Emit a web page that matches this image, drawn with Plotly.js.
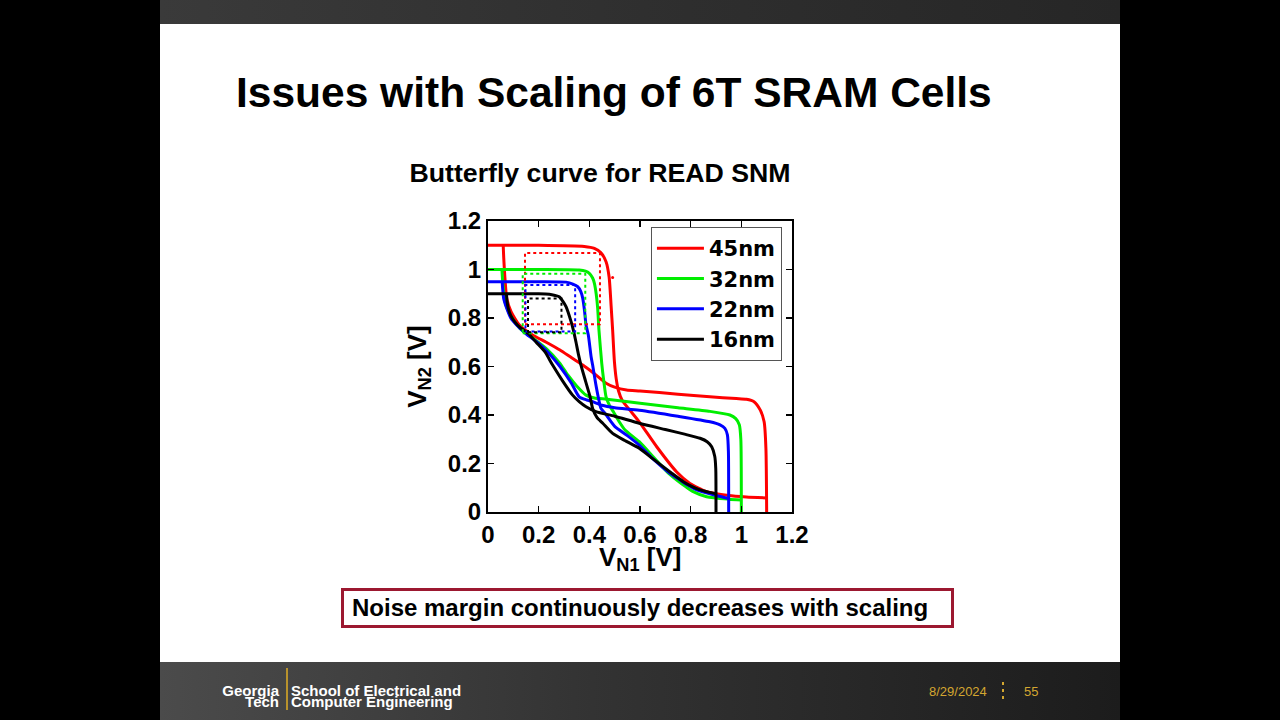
<!DOCTYPE html>
<html>
<head>
<meta charset="utf-8">
<script src="https://cdn.plot.ly/plotly-3.0.1.min.js"></script>
<style>
  body { margin:0; width:1280px; height:720px; background:#000; overflow:hidden;
         font-family:"Liberation Sans", Arial, sans-serif; }
  #topbar { position:absolute; left:160px; top:0; width:960px; height:24px;
            background:linear-gradient(90deg,#3a3a3a,#2e2e2e 55%,#262626); }
  #slide  { position:absolute; left:160px; top:24px; width:960px; height:638px; background:#fff; }
  #footer { position:absolute; left:160px; top:662px; width:960px; height:58px;
            background:linear-gradient(90deg,#4b4b4b,#333 45%,#1c1c1c); }
  #headline { position:absolute; left:236px; top:72px; font-size:42.5px; line-height:42px;
              font-weight:bold; color:#000; white-space:nowrap; }
  #note { position:absolute; left:341px; top:588px; width:613px; height:40px; box-sizing:border-box;
          border:3px solid #9c1830; background:#fff; padding-left:8px;
          font-size:24px; line-height:34px; font-weight:bold; color:#000; white-space:nowrap; }
  .ft { position:absolute; font-weight:bold; color:#fff; font-size:15px; line-height:11px; white-space:nowrap; }
  .gold { position:absolute; color:#d3a630; font-size:13px; line-height:13px; white-space:nowrap; }
  .dot { position:absolute; width:2px; height:3px; background:#d3a630; }
  #chart { position:absolute; left:0; top:0; width:1280px; height:720px; }
</style>
</head>
<body>
<div id="topbar"></div>
<div id="slide"></div>
<div id="footer"></div>
<div id="headline">Issues with Scaling of 6T SRAM Cells</div>
<div id="note">Noise margin continuously decreases with scaling</div>

<div class="ft" style="left:216px; top:685px; width:63px; text-align:right;">Georgia<br>Tech</div>
<div style="position:absolute; left:286px; top:668px; width:2px; height:42px; background:#b8922c;"></div>
<div class="ft" style="left:291px; top:685px;">School of Electrical and<br>Computer Engineering</div>
<div class="gold" style="left:929px; top:685px;">8/29/2024</div>
<div class="dot" style="left:1002px; top:682px;"></div>
<div class="dot" style="left:1002px; top:689px;"></div>
<div class="dot" style="left:1002px; top:696px;"></div>
<div class="gold" style="left:1024px; top:685px;">55</div>

<div id="chart"></div>

<script>
// Technology nodes shown in the legend
const nodes = ['45nm', '32nm', '22nm', '16nm'];

// 45nm: inverter transfer curve V_N2(V_N1) and its mirrored partner
const n45_ax = [0, 0.2, 0.38, 0.42, 0.445, 0.466, 0.478, 0.486, 0.492, 0.499, 0.506, 0.515, 0.53, 0.56, 0.597, 0.666, 0.745, 0.797, 0.863, 0.95, 1.02, 1.1];
const n45_ay = [1.1, 1.1, 1.095, 1.087, 1.07, 1.032, 0.97, 0.85, 0.75, 0.62, 0.55, 0.5, 0.46, 0.42, 0.372, 0.269, 0.165, 0.118, 0.084, 0.068, 0.062, 0.058];
const n45_bx = [0.06, 0.062, 0.066, 0.074, 0.091, 0.124, 0.176, 0.23, 0.284, 0.33, 0.374, 0.42, 0.466, 0.5, 0.547, 0.6, 0.75, 0.876, 0.98, 1.02, 1.05, 1.075, 1.09, 1.097, 1.1];
const n45_by = [1.1, 1.05, 0.977, 0.881, 0.826, 0.771, 0.73, 0.7, 0.668, 0.636, 0.606, 0.57, 0.531, 0.515, 0.503, 0.499, 0.486, 0.475, 0.468, 0.465, 0.455, 0.42, 0.372, 0.263, 0];

// 32nm
const n32_ax = [0, 0.2, 0.36, 0.385, 0.4, 0.413, 0.42, 0.427, 0.433, 0.438, 0.449, 0.457, 0.466, 0.479, 0.495, 0.518, 0.541, 0.597, 0.65, 0.712, 0.745, 0.78, 0.81, 0.863, 0.95, 1.0];
const n32_ay = [1.0, 1.0, 0.998, 0.993, 0.984, 0.965, 0.943, 0.9, 0.84, 0.75, 0.613, 0.54, 0.475, 0.441, 0.413, 0.372, 0.338, 0.29, 0.23, 0.16, 0.132, 0.105, 0.084, 0.063, 0.053, 0.05];
const n32_bx = [0.055, 0.058, 0.063, 0.067, 0.087, 0.126, 0.179, 0.229, 0.284, 0.315, 0.35, 0.387, 0.42, 0.469, 0.6, 0.75, 0.876, 0.955, 0.978, 0.992, 0.998, 1.0];
const n32_by = [1.0, 0.95, 0.9, 0.867, 0.812, 0.757, 0.716, 0.675, 0.613, 0.565, 0.52, 0.482, 0.47, 0.465, 0.448, 0.43, 0.415, 0.4, 0.385, 0.36, 0.3, 0];

// 22nm
const n22_ax = [0, 0.2, 0.308, 0.335, 0.354, 0.366, 0.374, 0.381, 0.387, 0.396, 0.407, 0.413, 0.425, 0.435, 0.446, 0.462, 0.486, 0.501, 0.55, 0.597, 0.65, 0.718, 0.758, 0.79, 0.824, 0.9, 0.95];
const n22_ay = [0.95, 0.95, 0.948, 0.94, 0.929, 0.91, 0.881, 0.83, 0.771, 0.73, 0.64, 0.606, 0.53, 0.475, 0.427, 0.407, 0.372, 0.352, 0.315, 0.276, 0.22, 0.16, 0.132, 0.11, 0.091, 0.068, 0.056];
const n22_bx = [0.056, 0.058, 0.062, 0.074, 0.09, 0.113, 0.15, 0.192, 0.24, 0.284, 0.33, 0.36, 0.39, 0.413, 0.45, 0.5, 0.597, 0.75, 0.876, 0.916, 0.935, 0.945, 0.949, 0.95];
const n22_by = [0.95, 0.92, 0.88, 0.84, 0.8, 0.771, 0.735, 0.702, 0.655, 0.6, 0.53, 0.475, 0.462, 0.455, 0.44, 0.43, 0.42, 0.395, 0.372, 0.359, 0.345, 0.318, 0.25, 0];

// 16nm
const n16_ax = [0, 0.2, 0.242, 0.265, 0.281, 0.295, 0.308, 0.328, 0.337, 0.347, 0.357, 0.367, 0.385, 0.403, 0.413, 0.43, 0.453, 0.492, 0.54, 0.597, 0.65, 0.725, 0.771, 0.8, 0.837, 0.87, 0.9];
const n16_ay = [0.9, 0.9, 0.898, 0.893, 0.888, 0.87, 0.847, 0.785, 0.75, 0.702, 0.65, 0.606, 0.54, 0.475, 0.427, 0.39, 0.366, 0.324, 0.295, 0.263, 0.22, 0.16, 0.125, 0.108, 0.091, 0.082, 0.075];
const n16_bx = [0.073, 0.075, 0.08, 0.09, 0.105, 0.125, 0.16, 0.19, 0.225, 0.255, 0.295, 0.334, 0.36, 0.387, 0.426, 0.5, 0.597, 0.7, 0.78, 0.837, 0.865, 0.883, 0.895, 0.899, 0.9];
const n16_by = [0.9, 0.87, 0.84, 0.81, 0.785, 0.762, 0.735, 0.7, 0.66, 0.606, 0.54, 0.482, 0.455, 0.434, 0.414, 0.395, 0.366, 0.34, 0.32, 0.304, 0.29, 0.269, 0.23, 0.18, 0];

// Largest embedded squares (read SNM) per node, in volts
const snmLeft   = [0.146, 0.137, 0.148, 0.158];
const snmRight  = [0.442, 0.384, 0.344, 0.290];
const snmBottom = [0.774, 0.737, 0.744, 0.741];
const snmTop    = [1.068, 0.982, 0.936, 0.880];

// Isolated sample point near the 45nm transition
const strayX = [0.492];
const strayY = [0.967];

const colors = ['#ff0000', '#00ee00', '#0000ff', '#000000'];
const curvesA = [[n45_ax, n45_ay], [n32_ax, n32_ay], [n22_ax, n22_ay], [n16_ax, n16_ay]];
const curvesB = [[n45_bx, n45_by], [n32_bx, n32_by], [n22_bx, n22_by], [n16_bx, n16_by]];

const font = 'Liberation Sans, Arial, sans-serif';
const legendFont = 'DejaVu Sans, Liberation Sans, sans-serif';
const traces = [];

nodes.forEach((name, i) => {
  traces.push({
    x: curvesA[i][0], y: curvesA[i][1], name: name, type: 'scatter', mode: 'lines',
    line: { color: colors[i], width: 3, shape: 'spline', smoothing: 0.6 },
    legendgroup: name, showlegend: true
  });
  traces.push({
    x: curvesB[i][0], y: curvesB[i][1], name: name, type: 'scatter', mode: 'lines',
    line: { color: colors[i], width: 3, shape: 'spline', smoothing: 0.6 },
    legendgroup: name, showlegend: false
  });
});

nodes.forEach((name, i) => {
  traces.push({
    x: [snmLeft[i], snmRight[i], snmRight[i], snmLeft[i], snmLeft[i]],
    y: [snmBottom[i], snmBottom[i], snmTop[i], snmTop[i], snmBottom[i]],
    type: 'scatter', mode: 'lines', showlegend: false, legendgroup: name,
    line: { color: colors[i], width: 2, dash: 'dot' }
  });
});

traces.push({
  x: strayX, y: strayY, type: 'scatter', mode: 'markers', showlegend: false,
  marker: { color: '#ff0000', size: 3 }
});

const axisBase = {
  range: [0, 1.2], tick0: 0, dtick: 0.2, showgrid: false, zeroline: false,
  showline: true, linecolor: '#000', linewidth: 2, mirror: 'ticks',
  ticks: 'inside', ticklen: 6, tickwidth: 1.5, tickcolor: '#000',
  tickfont: { family: font, size: 24, color: '#000', weight: 'bold' },
  fixedrange: true
};

const layout = {
  width: 1280, height: 720,
  margin: { l: 488, r: 488, t: 221, b: 208 },
  paper_bgcolor: 'rgba(0,0,0,0)', plot_bgcolor: '#fff',
  title: {
    text: 'Butterfly curve for READ SNM', xref: 'container', yref: 'container',
    x: 600 / 1280, xanchor: 'center', y: 1 - 173 / 720, yanchor: 'middle',
    font: { family: font, size: 26.7, color: '#000', weight: 'bold' }
  },
  xaxis: Object.assign({}, axisBase),
  yaxis: Object.assign({}, axisBase, {
    title: { text: 'V<sub>N2</sub> [V]', standoff: 14,
             font: { family: font, size: 26, color: '#000', weight: 'bold' } }
  }),
  annotations: [{
    text: 'V<sub>N1</sub> [V]', xref: 'paper', yref: 'paper', x: 0.5, y: -0.099,
    xanchor: 'center', yanchor: 'top', showarrow: false, borderpad: 0,
    font: { family: font, size: 26, color: '#000', weight: 'bold' }
  }],
  legend: {
    x: 0.536, y: 0.979, xanchor: 'left', yanchor: 'top',
    bgcolor: '#fff', bordercolor: '#555', borderwidth: 1,
    font: { family: legendFont, size: 21, color: '#000', weight: 'bold' },
    itemwidth: 47, tracegroupgap: 0
  },
  showlegend: true
};

Plotly.newPlot('chart', traces, layout, { staticPlot: true, displayModeBar: false });
</script>
</body>
</html>
